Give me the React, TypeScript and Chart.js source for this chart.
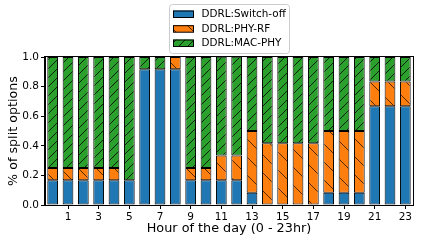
import React, { useEffect, useRef } from 'react';
import { Chart, registerables } from 'chart.js';

Chart.register(...registerables);

const hours = ['0','1','2','3','4','5','6','7','8','9','10','11','12','13','14','15','16','17','18','19','20','21','22','23'];
const switchOff = [0.167,0.167,0.167,0.167,0.167,0.167,0.917,0.917,0.917,0.167,0.167,0.167,0.167,0.083,0,0,0,0,0.083,0.083,0.083,0.667,0.667,0.667];
const phyRf = [0.083,0.083,0.083,0.083,0.083,0,0,0,0.083,0.083,0.083,0.167,0.167,0.417,0.417,0.417,0.417,0.417,0.417,0.417,0.417,0.167,0.167,0.167];
const macPhy = [0.75,0.75,0.75,0.75,0.75,0.833,0.083,0.083,0,0.75,0.75,0.667,0.667,0.5,0.583,0.583,0.583,0.583,0.5,0.5,0.5,0.166,0.166,0.166];
const seriesNames = ['DDRL:Switch-off', 'DDRL:PHY-RF', 'DDRL:MAC-PHY'];
const yTicks = [0, 0.2, 0.4, 0.6, 0.8, 1.0];

const BLUE = '#1f77b4';
const ORANGE = '#ff7f0e';
const GREEN = '#2ca02c';
const FONT = "'DejaVu Sans', sans-serif";

function makeHatch(color: string, size: number, dir: 'fwd' | 'back', stroke: string, lw: number): CanvasPattern | string {
  const c = document.createElement('canvas');
  c.width = size;
  c.height = size;
  const g = c.getContext('2d');
  if (!g) return color;
  g.fillStyle = color;
  g.fillRect(0, 0, size, size);
  g.strokeStyle = stroke;
  g.lineWidth = lw;
  g.beginPath();
  for (let k = -1; k <= 1; k++) {
    if (dir === 'fwd') {
      g.moveTo(k * size, size);
      g.lineTo(k * size + size, 0);
    } else {
      g.moveTo(k * size, 0);
      g.lineTo(k * size + size, size);
    }
  }
  g.stroke();
  const p = g.createPattern(c, 'repeat');
  return p || color;
}

export default function App() {
  const ref = useRef<HTMLCanvasElement | null>(null);
  useEffect(() => {
    if (!ref.current) return;
    const greenPat = makeHatch(GREEN, 9, 'fwd', 'rgba(0,0,0,0.9)', 0.9);
    const orangePat = makeHatch(ORANGE, 18, 'back', 'rgba(0,0,0,0.75)', 0.9);
    const fills = [BLUE, orangePat, greenPat];

    const framePlugin = {
      id: 'frameLegend',
      afterDraw(chart: any) {
        const ctx = chart.ctx as CanvasRenderingContext2D;
        const a = chart.chartArea;
        ctx.save();
        ctx.strokeStyle = '#000';
        ctx.lineWidth = 1;
        ctx.strokeRect(a.left - 0.5, a.top - 0.5, a.right - a.left + 1, a.bottom - a.top + 1);

        // legend
        const lx = 169.5, ly = 4.5, lw = 120, lh = 49;
        ctx.beginPath();
        (ctx as any).roundRect(lx, ly, lw, lh, 3);
        ctx.fillStyle = 'rgba(255,255,255,0.85)';
        ctx.fill();
        ctx.strokeStyle = '#cccccc';
        ctx.lineWidth = 1;
        ctx.stroke();
        const rows = [14, 28.7, 43];
        ctx.font = `10.4px ${FONT}`;
        ctx.textBaseline = 'middle';
        ctx.textAlign = 'left';
        rows.forEach((cy, i) => {
          ctx.fillStyle = fills[i] as any;
          ctx.fillRect(173, cy - 3.5, 20.5, 7);
          ctx.strokeStyle = '#000';
          ctx.lineWidth = 1;
          ctx.strokeRect(173.5, cy - 3, 20, 6.5);
          ctx.fillStyle = '#000';
          ctx.fillText(seriesNames[i], 201.5, cy + 0.5);
        });
        ctx.restore();
      },
    };

    const chart = new Chart(ref.current, {
      type: 'bar',
      data: {
        labels: hours,
        datasets: [
          { label: seriesNames[0], data: switchOff, backgroundColor: BLUE },
          { label: seriesNames[1], data: phyRf, backgroundColor: orangePat as any },
          { label: seriesNames[2], data: macPhy, backgroundColor: greenPat as any },
        ].map((d) => ({
          ...d,
          borderColor: '#000',
          borderWidth: 1,
          borderSkipped: false as any,
          barPercentage: 0.7,
          categoryPercentage: 1.0,
        })),
      },
      options: {
        responsive: false,
        animation: false,
        events: [],
        layout: { padding: { top: 57, right: 9, left: 0, bottom: 0 } },
        plugins: {
          legend: { display: false },
          tooltip: { enabled: false },
          title: { display: false },
        },
        scales: {
          x: {
            stacked: true,
            offset: true,
            afterFit: (s: any) => { s.height = 38; },
            grid: {
              offset: false,
              drawOnChartArea: false,
              drawTicks: true,
              tickLength: 4,
              color: (c: any) => (c.index % 2 === 1 ? '#000' : 'rgba(0,0,0,0)'),
              tickColor: (c: any) => (c.index % 2 === 1 ? '#000' : 'rgba(0,0,0,0)'),
              lineWidth: 1,
            },
            border: { display: true, color: '#000', width: 1 },
            ticks: {
              autoSkip: false,
              maxRotation: 0,
              minRotation: 0,
              padding: 2,
              color: '#000',
              font: { family: FONT, size: 10.5 },
              callback: (_v: any, i: number) => (i % 2 === 1 ? hours[i] : ''),
            },
            title: {
              display: true,
              text: 'Hour of the day (0 - 23hr)',
              color: '#000',
              font: { family: FONT, size: 12.8 },
              padding: { top: 0, bottom: 7 },
            },
          },
          y: {
            stacked: true,
            min: 0,
            max: 1,
            afterFit: (s: any) => { s.width = 45; },
            afterBuildTicks: (s: any) => { s.ticks = yTicks.map((v) => ({ value: v })); },
            grid: {
              drawOnChartArea: false,
              drawTicks: true,
              tickLength: 4,
              color: '#000',
              tickColor: '#000',
            },
            border: { display: true, color: '#000', width: 1 },
            ticks: {
              padding: 2,
              color: '#000',
              font: { family: FONT, size: 10.5 },
              callback: (v: any) => Number(v).toFixed(1),
            },
            title: {
              display: true,
              text: '% of split options',
              color: '#000',
              font: { family: FONT, size: 12.7 },
              padding: { top: 6, bottom: 0 },
            },
          },
        },
      },
      plugins: [framePlugin],
    });
    return () => chart.destroy();
  }, []);

  return (
    <div style={{ position: 'fixed', left: 0, top: 0, width: 422, height: 243, background: '#fff' }}>
      <canvas ref={ref} width={422} height={243} style={{ width: 422, height: 243, display: 'block' }} />
    </div>
  );
}
